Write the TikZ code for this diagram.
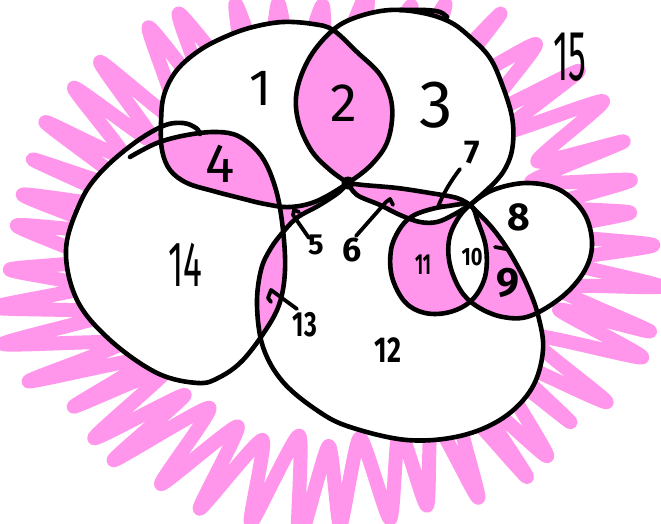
\documentclass[tikz,border=0pt]{standalone}
\usepackage{fontspec}
\usepackage{graphicx}
\newfontfamily\hand{Fira Sans}
\definecolor{pk}{RGB}{255,150,236}
\begin{document}
\begin{tikzpicture}[x=1pt,y=-1pt,
  ink/.style={line width=4.6pt,line cap=round,line join=round,draw=black},
  ptr/.style={line width=3.8pt,line cap=round,line join=round,draw=black},
  scrib/.style={line width=14pt,line cap=round,line join=round,draw=pk},
  lbl/.style={inner sep=0pt,text=black},
]
\useasboundingbox (0,0) rectangle (661,524);
\clip (0,0) rectangle (661,524);
\fill[white] (0,0) rectangle (661,524);
\pgfmathsetseed{42}

% shape paths
\def\SA{plot[smooth cycle,tension=0.6] coordinates {(348,183) (317,201) (290,207) (265,204) (240,198) (213,191) (187,183) (170,170) (162,150) (161,123) (164,95) (177,70) (200,50) (227,36) (253,27) (283,22) (313,24) (333,30) (357,52) (381,76) (392,106) (388,140) (372,164)}}
\def\SC{plot[smooth,tension=0.6] coordinates {(348,183) (330,170) (311,150) (298,120) (297,90) (310,57) (333,30) (357,17) (390,10) (423,13) (450,22) (470,37) (490,58) (503,87) (512,117) (513,143) (508,163) (496,181) (470,205)} -- plot[smooth,tension=0.6] coordinates {(470,205) (457,198) (430,193) (397,188) (363,185) (348,183)} -- cycle}
\def\SL{plot[smooth,tension=0.6] coordinates {(348,183) (357,195) (380,205) (400,215) (420,222) (437,222) (453,215) (470,205)} -- plot[smooth,tension=0.6] coordinates {(470,205) (487,222) (500,238) (513,258) (527,285) (538,315) (543,350) (532,388) (503,418) (460,436) (407,440) (350,427) (318,411) (283,382) (263,347) (257,305) (261,270) (271,248) (284,231) (298,217) (318,206) (338,193) (348,183)} -- cycle}
\def\SN{plot[smooth cycle,tension=0.6] coordinates {(157,143) (187,135) (217,132) (240,137) (262,157) (276,190) (283,230) (285,270) (280,302) (267,328) (243,360) (220,377) (198,383) (157,373) (110,340) (77,300) (66,250) (80,203) (100,173) (128,150)}}
\def\SK{plot[smooth cycle,tension=0.6] coordinates {(470,205) (478,222) (486,248) (485,277) (472,300) (450,312) (425,313) (405,302) (392,277) (391,250) (399,230) (411,217) (428,210) (448,206)}}
\def\SE{plot[smooth cycle,tension=0.6] coordinates {(470,205) (493,190) (527,183) (560,190) (584,213) (592,243) (585,270) (563,296) (530,316) (503,317) (478,307) (461,291) (450,265) (449,240) (457,220)}}

% pink scribble ring (region 15)
\draw[scrib] plot[smooth cycle, tension=0.35, variable=\k, samples=88, domain=0:87]
  ({330+(228+98*mod(round(\k),2)+10*sin(7*4.0909*\k)+12*rand)*cos(4.0909*\k+2*mod(round(\k),2)+1.2*rand)},
   {258+(182+88*mod(round(\k),2)+8*sin(5*4.0909*\k)+10*rand)*sin(4.0909*\k+2*mod(round(\k),2)+1.2*rand)});

% enclosed outside regions 5 and 6
\fill[pk] (272,200) -- (292,205) -- (318,198) -- (348,180) -- (348,188) -- (320,210) -- (300,220) -- (286,236) -- (274,236) -- cycle;
\fill[pk] (350,180) -- (400,186) -- (458,196) -- (472,205) -- (455,218) -- (437,226) -- (420,226) -- (398,218) -- (378,209) -- (352,192) -- cycle;

% white interiors
\fill[white] \SA;
\fill[white] \SC;
\fill[white] \SL;
\fill[white] \SN;
\fill[white] \SK;
\fill[white] \SE;

% pink intersections
\begin{scope}\clip \SA; \fill[pk] \SC; \end{scope}
\begin{scope}\clip \SA; \fill[pk] \SN; \end{scope}
\begin{scope}\clip \SN; \fill[pk] \SL; \end{scope}
\begin{scope}\clip \SK; \fill[pk] \SL; \end{scope}
\begin{scope}\clip \SE; \fill[pk] \SL; \end{scope}
\begin{scope}\clip \SK; \clip \SE; \fill[white] \SL; \end{scope}

% outlines
\draw[ink] \SA;
\draw[ink] \SC;
\draw[ink] plot[smooth,tension=0.6] coordinates {(400,10) (425,10) (440,12) (447,17)};
\draw[ink] \SL;
\draw[ink] plot[smooth,tension=0.6] coordinates {(130,157) (157,143) (187,135) (217,132) (240,137) (262,157) (276,190) (283,230) (285,270) (280,302) (267,328) (243,360) (220,377) (198,383) (157,373) (110,340) (77,300) (66,250) (80,203) (100,173) (133,144) (163,126) (183,123) (196,128) (200,134)};
\draw[ink] \SK;
\draw[ink] \SE;
\fill (348,183) circle (6.5);

% labels
\node[lbl,font=\hand\fontsize{51}{51}\selectfont] (n1) at (261,88) {1};
\node[lbl,font=\hand\fontsize{54}{54}\selectfont] (n2) at (344,103) {2};
\node[lbl,font=\hand\fontsize{67}{67}\selectfont] (n3) at (436,105) {3};
\node[lbl,font=\hand\fontsize{55}{55}\selectfont] (n4) at (220,164) {4};
\node[lbl,font=\hand\fontsize{64}{64}\selectfont] (n14) at (185,265) {\scalebox{0.55}[1]{14}};
\node[lbl,font=\hand\fontsize{71}{71}\selectfont] (n15) at (570,57) {\scalebox{0.5}[1]{15}};
\node[lbl,font=\hand\bfseries\fontsize{29}{29}\selectfont] (n5) at (316,245) {5};
\node[lbl,font=\hand\bfseries\fontsize{34}{34}\selectfont] (n6) at (352,250) {6};
\node[lbl,font=\hand\bfseries\fontsize{33}{33}\selectfont] (n7) at (472,153) {7};
\node[lbl,font=\hand\bfseries\fontsize{39}{39}\selectfont] (n8) at (519,217) {8};
\node[lbl,font=\hand\bfseries\fontsize{41}{41}\selectfont] (n9) at (508,283) {9};
\node[lbl,font=\hand\bfseries\fontsize{25}{25}\selectfont] (n10) at (472,257) {\scalebox{0.8}[1]{10}};
\node[lbl,font=\hand\bfseries\fontsize{29}{29}\selectfont] (n11) at (423,265) {\scalebox{0.6}[1]{11}};
\node[lbl,font=\hand\bfseries\fontsize{36}{36}\selectfont] (n12) at (388,350) {\scalebox{0.75}[1]{12}};
\node[lbl,font=\hand\bfseries\fontsize{35}{35}\selectfont] (n13) at (305,325) {\scalebox{0.7}[1]{13}};

% pointers
\coordinate (s5) at (309,238); \coordinate (e5) at (293,215);
\draw[ptr] (s5) -- (e5) -- (294,210) -- (299,212);
\coordinate (s6) at (356,236); \coordinate (e6) at (386,202);
\draw[ptr] (s6) -- (e6) -- (390,199) -- (393,205);
\coordinate (s7) at (460,169); \coordinate (e7) at (438,207);
\draw[ptr] (s7) .. controls (450,182) and (442,196) .. (e7) -- (443,206);
\coordinate (s13) at (297,309); \coordinate (e13) at (271,290);
\draw[ptr] (s13) -- (e13) -- (268,298) -- (271,302);
\coordinate (t9a) at (495,247); \coordinate (t9b) at (506,249);
\draw[ptr] (t9a) -- (t9b);
\end{tikzpicture}
\end{document}
